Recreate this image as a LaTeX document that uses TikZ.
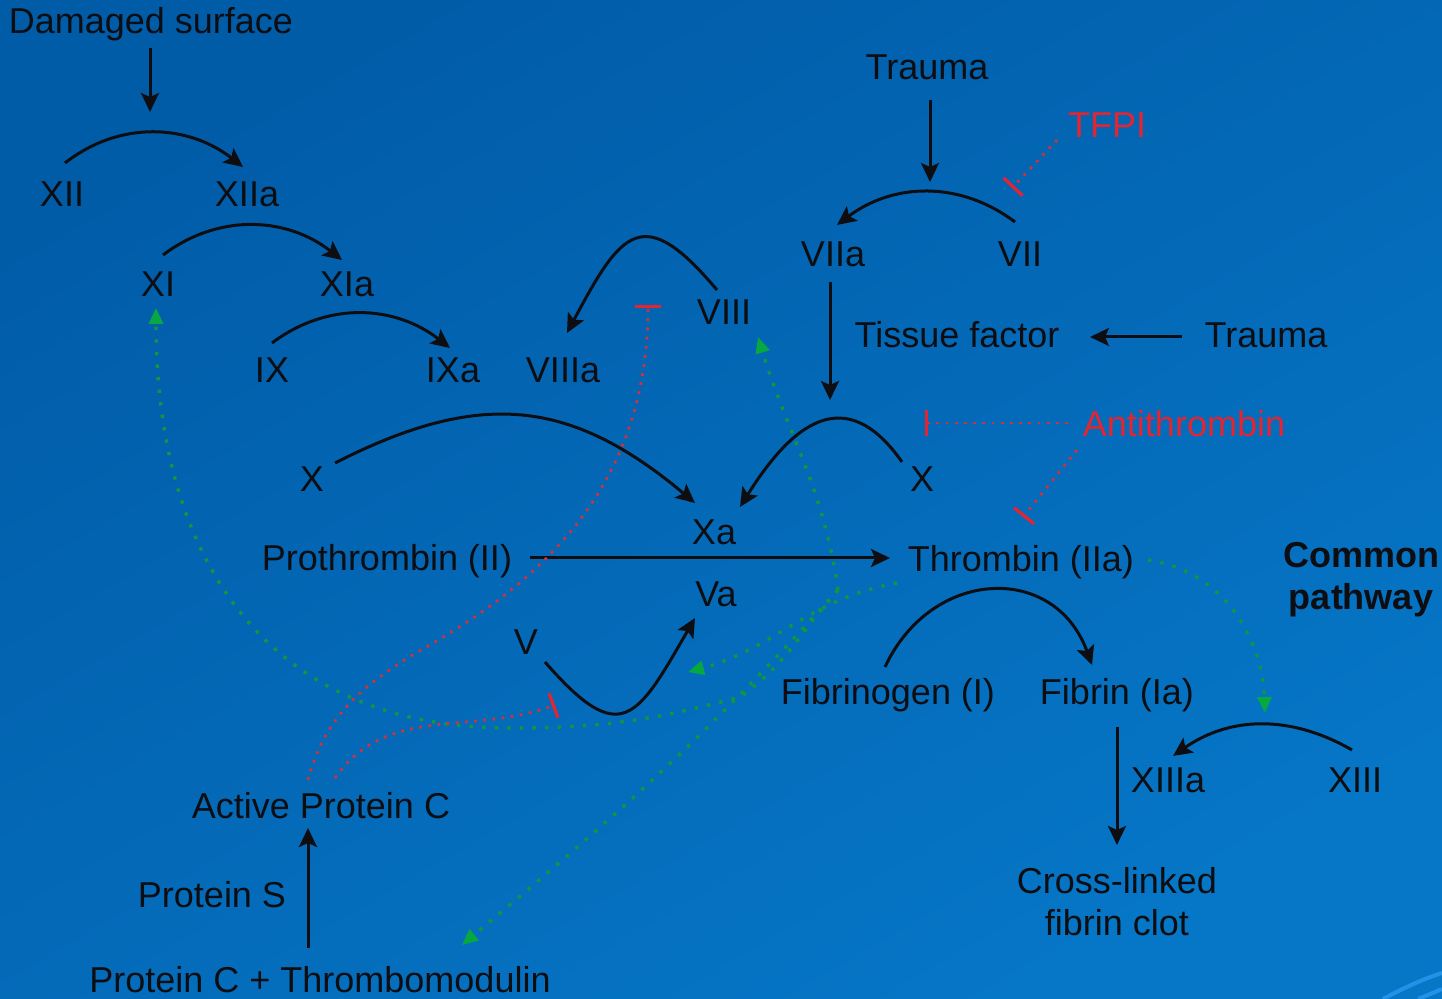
\documentclass[tikz,border=0pt]{standalone}
\usepackage{fontspec}
\setmainfont{Liberation Sans}
\usetikzlibrary{arrows.meta,calc}
\definecolor{bgA}{RGB}{1,92,168}
\definecolor{bgB}{RGB}{6,118,198}
\definecolor{ink}{RGB}{14,14,18}
\definecolor{inhib}{RGB}{228,36,48}
\definecolor{inhibline}{RGB}{205,50,62}
\definecolor{actdot}{RGB}{18,150,66}
\definecolor{acthead}{RGB}{8,168,64}
\definecolor{deco}{RGB}{35,145,232}
\begin{document}
\begin{tikzpicture}[x=0.5pt,y=0.5pt,
  lbl/.style={inner sep=0pt, anchor=base, text=ink, font=\fontsize{18pt}{21pt}\selectfont},
  redlbl/.style={lbl, text=inhib},
  conv/.style={draw=ink, line width=1.5pt, -{Stealth[length=9.5pt,width=9pt,inset=2pt]}},
  act/.style={draw=actdot, line width=1.7pt, dash pattern=on 1.7pt off 4.6pt, -{Triangle[length=8pt,width=7pt,color=acthead]}},
  inh/.style={draw=inhibline, line width=1.4pt, dash pattern=on 1.4pt off 3.2pt, -{Bar[width=13pt,line width=1.6pt,color=inhib]}},
  decoline/.style={draw=deco, line width=2pt}
]
\shade[top color=bgA, bottom color=bgB, shading angle=30] (0,0) rectangle (1442,-999);
\useasboundingbox (0,0) rectangle (1442,-999);
\draw[decoline] (1383,-999) .. controls (1400,-990) and (1420,-980) .. (1442,-973);
\draw[decoline] (1418,-999) .. controls (1428,-995) .. (1442,-989);

% labels
\node[lbl] (dmg) at (151,-34) {Damaged surface};
\node[lbl] (XII) at (62,-207) {XII};
\node[lbl] (XIIa) at (247,-207) {XIIa};
\node[lbl] (XI) at (158,-297) {XI};
\node[lbl] (XIa) at (347,-297) {XIa};
\node[lbl] (IX) at (272,-383) {IX};
\node[lbl] (IXa) at (453,-383) {IXa};
\node[lbl] (VIIIa) at (563,-383) {VIIIa};
\node[lbl] (VIII) at (724,-325) {VIII};
\node[lbl] (traumaA) at (927,-80) {Trauma};
\node[redlbl] (TFPI) at (1107,-138) {TFPI};
\node[lbl] (VIIa) at (833,-267) {VIIa};
\node[lbl] (VII) at (1020,-267) {VII};
\node[lbl] (TF) at (957,-348) {Tissue factor};
\node[lbl] (traumaB) at (1266,-348) {Trauma};
\node[redlbl] (AT) at (1184,-437) {Antithrombin};
\node[lbl] (Xr) at (922,-492) {X};
\node[lbl] (Xl) at (312,-492) {X};
\node[lbl] (pro) at (387,-571) {Prothrombin (II)};
\node[lbl] (Xa) at (714,-545) {Xa};
\node[lbl] (thr) at (1021,-572) {Thrombin (IIa)};
\node[lbl] (Va) at (716,-607) {Va};
\node[lbl] (V) at (526,-655) {V};
\node[lbl, anchor=north, align=center, font=\bfseries\fontsize{18pt}{21pt}\selectfont] (common) at (1361,-542) {Common\\pathway};
\node[lbl] (fbg) at (888,-705) {Fibrinogen (I)};
\node[lbl] (fbn) at (1117,-705) {Fibrin (Ia)};
\node[lbl] (XIIIa) at (1168,-793) {XIIIa};
\node[lbl] (XIII) at (1355,-793) {XIII};
\node[lbl, anchor=north, align=center] (clot) at (1117,-867) {Cross-linked\\fibrin clot};
\node[lbl] (APC) at (321,-819) {Active Protein C};
\node[lbl] (PS) at (212,-908) {Protein S};
\node[lbl] (PCTM) at (320,-993) {Protein C + Thrombomodulin};

% conversions
\draw[conv] ($(dmg.base)+(-1,-14)$) -- ($(dmg.base)+(-1,-78)$);
\draw[conv] ($(XII.base)+(3,44)$) to[out=38,in=142] ($(XIIa.base)+(-4,40)$);
\draw[conv] ($(XI.base)+(5,42)$) to[out=37,in=142] ($(XIa.base)+(-5,37)$);
\draw[conv] ($(IX.base)+(0,40)$) to[out=37,in=142] ($(IXa.base)+(-3,35)$);
\draw[conv] ($(Xl.base)+(23,29)$) to[out=27,in=140,looseness=1.15] ($(Xa.base)+(-19,42)$);
\draw[conv] ($(VIII.base)+(-7,35)$) to[out=130,in=62,looseness=1.9] ($(VIIIa.base)+(4,50)$);
\draw[conv] ($(traumaA.base)+(3,-20)$) -- ($(traumaA.base)+(3,-102)$);
\draw[conv] ($(VII.base)+(-5,45)$) to[out=143,in=37] ($(VIIa.base)+(4,42)$);
\draw[conv] ($(VIIa.base)+(-3,-15)$) -- ($(VIIa.base)+(-3,-133)$);
\draw[conv] ($(traumaB.base)+(-84,11)$) -- ($(TF.base)+(133,11)$);
\draw[conv] ($(Xr.base)+(-20,30)$) to[out=125,in=58,looseness=1.5] ($(Xa.base)+(26,38)$);
\draw[conv] ($(pro.base)+(143,13)$) -- ($(thr.base)+(-131,14)$);
\draw[conv] ($(V.base)+(19,-7)$) to[out=-49,in=-120,looseness=1.9] ($(Va.base)+(-21,-11)$);
\draw[conv] ($(fbg.base)+(-3,38)$) to[out=65,in=110,looseness=1.35] ($(fbn.base)+(-25,40)$);
\draw[conv] ($(fbn.base)+(0,-22)$) -- ($(clot.north)+(0,22)$);
\draw[conv] ($(XIII.base)+(-3,43)$) to[out=150,in=35] ($(XIIIa.base)+(5,37)$);
\draw[conv] ($(PCTM.base)+(-12,45)$) -- ($(APC.base)+(-13,-9)$);

% thrombin activations
\coordinate (gA) at (740,-697);
\coordinate (gB) at (510,-728);
\draw[act] ($(thr.base)+(127,12)$) to[out=-8,in=92] ($(XIII.base)+(-90,80)$);
\draw[act] ($(thr.base)+(-124,-11)$) to[out=190,in=15] ($(Va.base)+(-28,-65)$);
\draw[act] ($(thr.base)+(-183,-18)$) to[out=98,in=-73] ($(VIII.base)+(34,-12)$);
\draw[act] ($(thr.base)+(-183,-18)$) to[out=228,in=40] ($(PCTM.base)+(142,48)$);
\draw[act] ($(thr.base)+(-183,-18)$) to[out=228,in=35] (gA) to[out=195,in=0] (gB) to[out=180,in=-90,looseness=1.15] ($(XI.base)+(-2,-11)$);

% inhibitions
\coordinate (rA) at (433,-643);
\draw[inh] ($(APC.base)+(-13,39)$) to[out=75,in=210] (rA) to[out=30,in=-90] ($(VIII.base)+(-76,20)$);
\draw[inh] ($(APC.base)+(14,41)$) to[out=55,in=200] ($(V.base)+(29,-50)$);
\draw[inh] ($(TFPI.base)+(-50,-2)$) -- ($(VII.base)+(-8,79)$);
\draw[inh] ($(AT.base)+(-116,14)$) -- ($(Xr.base)+(3,69)$);
\draw[inh] ($(AT.base)+(-107,-13)$) -- ($(thr.base)+(2,55)$);
\end{tikzpicture}
\end{document}
